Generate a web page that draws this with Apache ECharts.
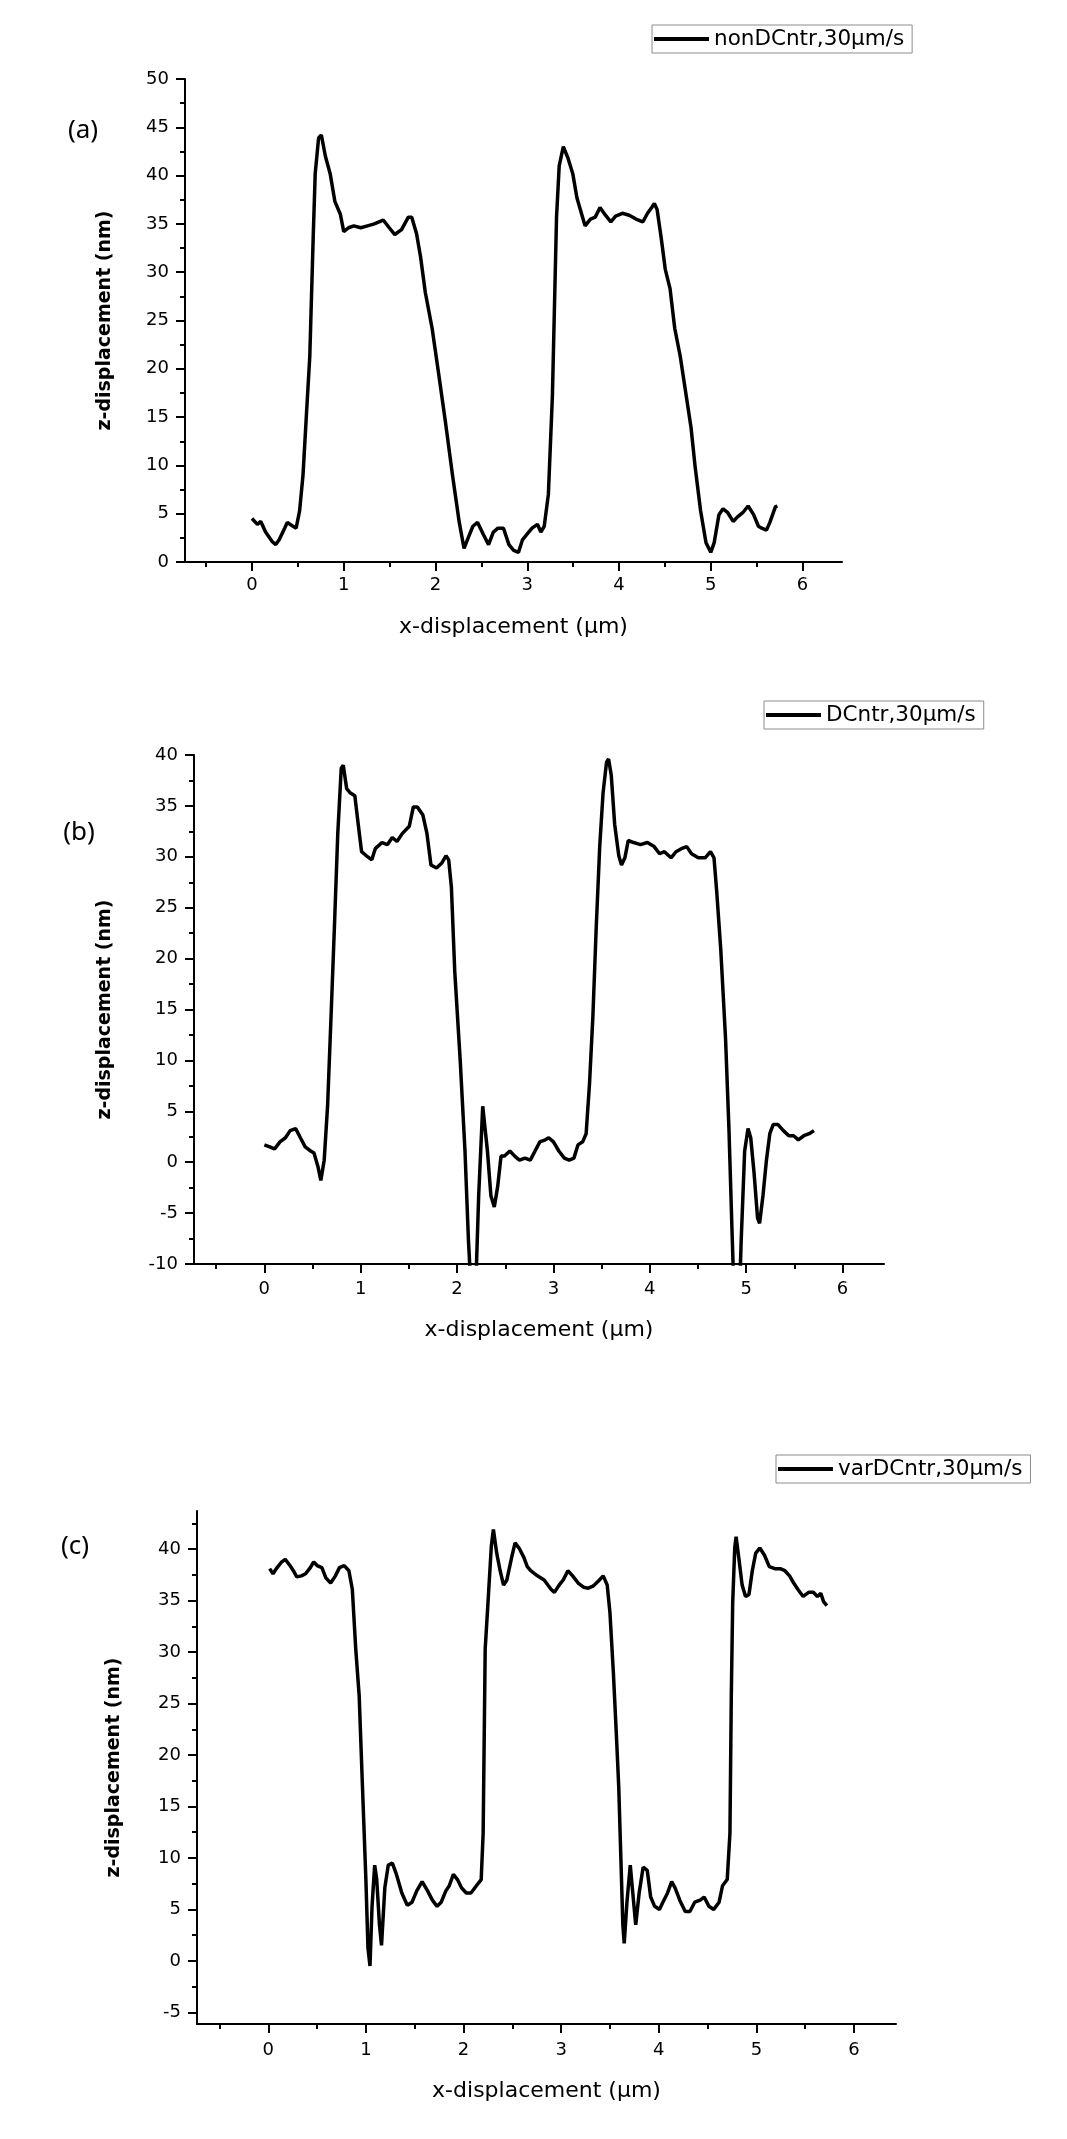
<!DOCTYPE html>
<html>
<head>
	<meta charset="UTF-8">
	<title></title>
	<script type="text/javascript" src="https://cdn.jsdelivr.net/npm/echarts@6/dist/echarts.min.js"></script>
	<style type="text/css">
		html,body{margin:0; padding:0; background:#fff;}
		#chart1{width:1067px; height:2139px;}
	</style>
</head>
<body>
	<div id="chart1"></div>
	<script type="text/javascript">
		// tick values
		let xMajor = [0, 1, 2, 3, 4, 5, 6];
		let xMinor = [-0.5, 0.5, 1.5, 2.5, 3.5, 4.5, 5.5];
		let zMajorA = [0, 5, 10, 15, 20, 25, 30, 35, 40, 45, 50];
		let zMinorA = [2.5, 7.5, 12.5, 17.5, 22.5, 27.5, 32.5, 37.5, 42.5, 47.5];
		let zMajorB = [-10, -5, 0, 5, 10, 15, 20, 25, 30, 35, 40];
		let zMinorB = [-7.5, -2.5, 2.5, 7.5, 12.5, 17.5, 22.5, 27.5, 32.5, 37.5];
		let zMajorC = [-5, 0, 5, 10, 15, 20, 25, 30, 35, 40];
		let zMinorC = [-2.5, 2.5, 7.5, 12.5, 17.5, 22.5, 27.5, 32.5, 37.5, 42.5];

		// (a) nonDCntr
		let xA = [0.000, 0.059, 0.096, 0.148, 0.222, 0.259, 0.296, 0.356, 0.385, 0.430, 0.481, 0.519, 0.556, 0.593, 0.630, 0.667, 0.689, 0.726, 0.756, 0.800,
			0.852, 0.904, 0.963, 1.000, 1.052, 1.111, 1.185, 1.259, 1.333, 1.430, 1.496, 1.556, 1.630, 1.704, 1.741, 1.793, 1.837, 1.889, 1.963, 2.037,
			2.111, 2.185, 2.259, 2.311, 2.356, 2.407, 2.459, 2.519, 2.578, 2.630, 2.681, 2.741, 2.800, 2.852, 2.904, 2.948, 3.000, 3.052, 3.111, 3.148,
			3.185, 3.230, 3.274, 3.319, 3.348, 3.393, 3.444, 3.496, 3.541, 3.593, 3.630, 3.689, 3.741, 3.793, 3.852, 3.911, 3.963, 4.037, 4.111, 4.185,
			4.259, 4.311, 4.356, 4.385, 4.415, 4.459, 4.504, 4.556, 4.607, 4.667, 4.726, 4.785, 4.830, 4.889, 4.948, 5.000, 5.037, 5.089, 5.133, 5.185,
			5.244, 5.296, 5.348, 5.407, 5.467, 5.519, 5.556, 5.607, 5.644, 5.704, 5.726];
		let zA = [4.5, 3.9, 4.2, 3.1, 2.1, 1.8, 2.3, 3.5, 4.1, 3.8, 3.5, 5.3, 9.0, 15.2, 21.3, 33.6, 40.2, 43.9, 44.2, 42.0,
			40.2, 37.3, 36.0, 34.2, 34.6, 34.8, 34.6, 34.8, 35.0, 35.4, 34.6, 33.9, 34.4, 35.7, 35.7, 34.0, 31.6, 27.9, 24.2, 19.3,
			14.3, 9.0, 4.1, 1.4, 2.5, 3.7, 4.1, 2.9, 1.8, 3.1, 3.5, 3.5, 1.8, 1.2, 1.0, 2.3, 2.9, 3.5, 3.9, 3.1,
			3.7, 7.0, 17.2, 35.7, 41.0, 43.0, 41.8, 40.2, 37.7, 36.0, 34.8, 35.5, 35.7, 36.7, 35.9, 35.2, 35.8, 36.1, 35.9, 35.5,
			35.2, 36.1, 36.7, 37.1, 36.5, 33.6, 30.3, 28.3, 24.2, 21.3, 17.6, 13.9, 9.8, 5.3, 2.0, 1.0, 2.0, 4.9, 5.5, 5.1,
			4.2, 4.7, 5.1, 5.8, 4.9, 3.7, 3.5, 3.3, 4.1, 5.7, 5.8];

		// (b) DCntr
		let xB = [0.000, 0.056, 0.106, 0.162, 0.219, 0.268, 0.325, 0.374, 0.424, 0.480, 0.515, 0.558, 0.586, 0.621, 0.656, 0.692, 0.727, 0.762, 0.798, 0.819,
			0.854, 0.889, 0.939, 0.974, 1.009, 1.059, 1.115, 1.151, 1.221, 1.278, 1.327, 1.376, 1.433, 1.504, 1.546, 1.588, 1.645, 1.687, 1.729, 1.786,
			1.842, 1.885, 1.913, 1.941, 1.976, 2.033, 2.082, 2.118, 2.153, 2.188, 2.224, 2.266, 2.315, 2.351, 2.386, 2.421, 2.456, 2.492, 2.548, 2.598,
			2.647, 2.704, 2.760, 2.809, 2.859, 2.915, 2.951, 3.000, 3.056, 3.113, 3.162, 3.212, 3.254, 3.303, 3.339, 3.374, 3.409, 3.444, 3.480, 3.515,
			3.551, 3.572, 3.600, 3.635, 3.678, 3.706, 3.741, 3.776, 3.833, 3.903, 3.974, 4.045, 4.101, 4.151, 4.221, 4.271, 4.327, 4.383, 4.433, 4.503,
			4.574, 4.630, 4.666, 4.694, 4.736, 4.786, 4.821, 4.856, 4.877, 4.927, 4.948, 4.984, 5.019, 5.047, 5.082, 5.118, 5.139, 5.174, 5.210, 5.245,
			5.280, 5.330, 5.386, 5.442, 5.492, 5.541, 5.598, 5.654, 5.703];
		let zB = [1.7, 1.5, 1.3, 2.0, 2.4, 3.1, 3.3, 2.4, 1.5, 1.1, 0.9, -0.5, -1.8, 0.2, 5.5, 14.3, 23.1, 32.3, 38.7, 39.0,
			36.7, 36.3, 36.0, 33.2, 30.5, 30.1, 29.7, 30.8, 31.4, 31.2, 31.9, 31.5, 32.3, 33.0, 34.9, 34.9, 34.1, 32.3, 29.2, 28.9,
			29.4, 30.1, 29.7, 27.0, 18.7, 9.9, 1.1, -7.7, -14.0, -14.0, -3.3, 5.5, 1.1, -3.3, -4.4, -2.4, 0.6, 0.6, 1.1, 0.6,
			0.2, 0.4, 0.2, 1.1, 2.0, 2.2, 2.4, 2.0, 1.1, 0.4, 0.2, 0.4, 1.7, 2.0, 2.8, 7.7, 14.3, 23.1, 31.0, 36.3,
			39.3, 39.6, 38.0, 33.2, 30.1, 29.2, 29.9, 31.6, 31.4, 31.2, 31.4, 31.0, 30.3, 30.5, 29.9, 30.5, 30.8, 31.0, 30.3, 29.9,
			29.9, 30.5, 29.9, 26.6, 20.9, 12.1, 3.3, -7.7, -14.0, -14.0, -7.7, 1.1, 3.3, 2.4, -1.1, -5.5, -6.0, -3.3, 0.2, 2.8,
			3.7, 3.7, 3.1, 2.6, 2.6, 2.2, 2.6, 2.8, 3.1];

		// (c) varDCntr
		let xC = [0.014, 0.049, 0.083, 0.132, 0.174, 0.222, 0.257, 0.292, 0.340, 0.382, 0.431, 0.465, 0.500, 0.549, 0.590, 0.639, 0.688, 0.729, 0.778, 0.826,
			0.861, 0.896, 0.931, 0.965, 1.000, 1.021, 1.042, 1.063, 1.090, 1.111, 1.139, 1.160, 1.194, 1.229, 1.271, 1.313, 1.368, 1.424, 1.472, 1.521,
			1.576, 1.632, 1.681, 1.729, 1.771, 1.819, 1.854, 1.896, 1.938, 1.979, 2.028, 2.076, 2.132, 2.181, 2.201, 2.222, 2.250, 2.285, 2.306, 2.340,
			2.375, 2.410, 2.444, 2.493, 2.528, 2.569, 2.618, 2.653, 2.688, 2.757, 2.826, 2.896, 2.931, 2.979, 3.021, 3.069, 3.118, 3.174, 3.229, 3.278,
			3.326, 3.382, 3.431, 3.472, 3.500, 3.535, 3.569, 3.590, 3.611, 3.632, 3.646, 3.674, 3.708, 3.729, 3.764, 3.799, 3.840, 3.882, 3.917, 3.958,
			4.007, 4.042, 4.090, 4.132, 4.167, 4.215, 4.271, 4.319, 4.368, 4.424, 4.465, 4.514, 4.563, 4.618, 4.653, 4.701, 4.729, 4.743, 4.757, 4.778,
			4.792, 4.819, 4.854, 4.889, 4.924, 4.958, 4.993, 5.035, 5.083, 5.132, 5.188, 5.243, 5.292, 5.340, 5.382, 5.424, 5.479, 5.535, 5.583, 5.625,
			5.660, 5.688, 5.722];
		let zC = [38.1, 37.6, 38.1, 38.7, 39.0, 38.4, 37.9, 37.3, 37.4, 37.6, 38.2, 38.75, 38.4, 38.2, 37.2, 36.7, 37.4, 38.2, 38.4, 37.9,
			36.1, 30.3, 25.8, 16.9, 7.9, 1.3, -0.5, 5.3, 9.3, 7.9, 3.5, 1.5, 7.1, 9.3, 9.5, 8.4, 6.6, 5.4, 5.7, 6.8,
			7.7, 6.8, 5.9, 5.3, 5.7, 6.8, 7.3, 8.4, 7.9, 7.1, 6.6, 6.6, 7.3, 7.9, 12.4, 30.3, 34.7, 40.3, 41.9, 39.6,
			37.9, 36.5, 37.0, 39.2, 40.6, 40.1, 39.2, 38.3, 37.9, 37.4, 37.0, 36.1, 35.8, 36.5, 37.0, 37.9, 37.4, 36.7, 36.3, 36.2,
			36.4, 36.9, 37.4, 36.5, 33.8, 28.0, 21.3, 16.9, 10.2, 3.5, 1.7, 5.7, 9.3, 7.1, 3.5, 6.6, 9.1, 8.8, 6.2, 5.3,
			5.0, 5.7, 6.6, 7.7, 7.1, 5.9, 4.8, 4.8, 5.7, 5.9, 6.2, 5.3, 5.0, 5.7, 7.3, 7.9, 12.4, 25.8, 34.7, 40.1,
			41.2, 39.2, 36.5, 35.4, 35.6, 37.9, 39.6, 40.1, 39.4, 38.3, 38.1, 38.1, 37.9, 37.4, 36.7, 36.1, 35.4, 35.8, 35.8, 35.4,
			35.7, 34.9, 34.5];

		let names = ['nonDCntr,30µm/s', 'DCntr,30µm/s', 'varDCntr,30µm/s'];

		let FONT = 'DejaVu Sans';
		let black = '#000';

		// grid boxes (px)
		let grids = [
			{left: 185, top: 79, width: 657, height: 483},
			{left: 194, top: 755, width: 690, height: 509},
			{left: 197, top: 1511, width: 699, height: 513}
		];
		let yRange = [[0, 50], [-10, 40], [-6.13, 43.7]];
		let yMajors = [zMajorA, zMajorB, zMajorC];
		let yMinors = [zMinorA, zMinorB, zMinorC];
		let xLabelMargin = [14, 16, 17];
		let xNameGap = [54, 55, 56];
		let yNameGap = [70, 79, 73];

		function mkX(gi, minor){
			return {
				type: 'value', gridIndex: gi, position: 'bottom',
				min: -0.73, max: 6.43,
				axisLine: {show: !minor, onZero: false, lineStyle: {color: black, width: 2}},
				axisTick: {show: true, inside: false, length: minor ? 5 : 9, customValues: minor ? xMinor : xMajor,
					lineStyle: {color: black, width: 2}},
				axisLabel: {show: !minor, customValues: xMajor, margin: xLabelMargin[gi], color: black,
					fontFamily: FONT, fontSize: 18},
				splitLine: {show: false},
				name: minor ? '' : 'x-displacement (µm)',
				nameLocation: 'middle', nameGap: xNameGap[gi],
				nameTextStyle: {color: black, fontFamily: FONT, fontSize: 22}
			};
		}

		function mkY(gi, minor){
			return {
				type: 'value', gridIndex: gi, position: 'left',
				min: yRange[gi][0], max: yRange[gi][1],
				axisLine: {show: !minor, onZero: false, lineStyle: {color: black, width: 2}},
				axisTick: {show: true, inside: false, length: minor ? 5 : 9, customValues: minor ? yMinors[gi] : yMajors[gi],
					lineStyle: {color: black, width: 2}},
				axisLabel: {show: !minor, customValues: yMajors[gi], margin: 16, color: black,
					fontFamily: FONT, fontSize: 18},
				splitLine: {show: false},
				name: minor ? '' : 'z-displacement (nm)',
				nameLocation: 'middle', nameGap: yNameGap[gi], nameRotate: 90,
				nameTextStyle: {color: black, fontFamily: FONT, fontSize: 19, fontWeight: 'bold'}
			};
		}

		function pairs(xs, zs){
			return xs.map(function(x, i){ return [x, zs[i]]; });
		}

		let xAxes = [], yAxes = [];
		for (let g = 0; g < 3; g++){
			xAxes.push(mkX(g, false), mkX(g, true));
			yAxes.push(mkY(g, false), mkY(g, true));
		}

		let datas = [pairs(xA, zA), pairs(xB, zB), pairs(xC, zC)];
		let series = datas.map(function(d, g){
			return {
				type: 'line', name: names[g],
				xAxisIndex: 2 * g, yAxisIndex: 2 * g,
				data: d, showSymbol: false, smooth: false, clip: true,
				lineStyle: {color: black, width: 3.5},
				itemStyle: {color: black}
			};
		});

		let legendPos = [[652, 25], [764, 701], [776, 1455]];
		let legends = legendPos.map(function(p, g){
			return {
				data: [names[g]], left: p[0], top: p[1],
				orient: 'horizontal', selectedMode: false,
				icon: 'rect', itemWidth: 55, itemHeight: 4,
				padding: [3, 8, 3, 2],
				backgroundColor: '#fff', borderColor: '#8c8c8c', borderWidth: 1, borderRadius: 0,
				textStyle: {color: black, fontFamily: FONT, fontSize: 21.5}
			};
		});

		let panelLabels = [['(a)', 83, 131], ['(b)', 79, 833], ['(c)', 75, 1547]];

		let myChart = echarts.init(document.getElementById('chart1'), null, {renderer: 'canvas'});
		let option = {
			backgroundColor: '#fff',
			animation: false,
			grid: grids.map(function(b){
				return {left: b.left, top: b.top, width: b.width, height: b.height, containLabel: false, outerBoundsMode: 'none'};
			}),
			xAxis: xAxes,
			yAxis: yAxes,
			legend: legends,
			graphic: panelLabels.map(function(l){
				return {type: 'text', x: l[1], y: l[2],
					style: {text: l[0], fill: black, font: '26px "Noto Sans"', textAlign: 'center', textVerticalAlign: 'middle'}};
			}),
			series: series
		};
		myChart.setOption(option);
	</script>
</body>
</html>
